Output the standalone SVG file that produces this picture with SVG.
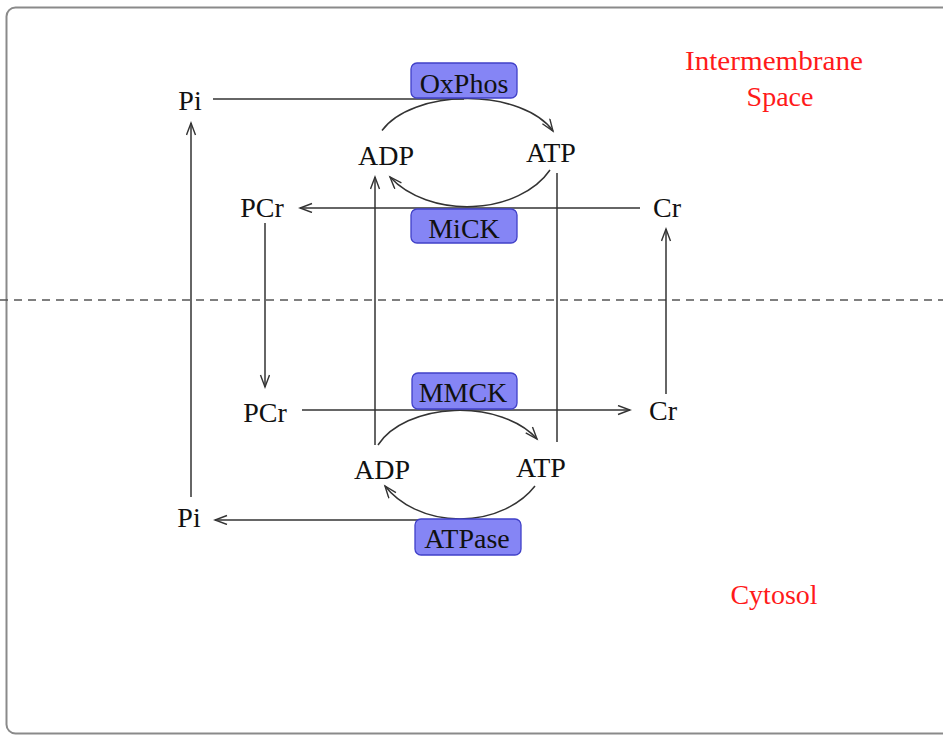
<svg xmlns="http://www.w3.org/2000/svg" width="943" height="736" viewBox="0 0 943 736">
<style>
.lbl{font-family:"Liberation Serif","Times New Roman",serif;font-size:28px;fill:#111;text-anchor:middle}
.red{font-family:"Liberation Serif","Times New Roman",serif;font-size:28px;fill:#ff1a1a;text-anchor:middle}
.enz{fill:#8585f5;stroke:#4040c8;stroke-width:1.3}
.c{fill:none;stroke:#333;stroke-width:1.5}
</style>
<defs>
<marker id="ah" markerUnits="userSpaceOnUse" markerWidth="16" markerHeight="12" refX="13" refY="5" orient="auto">
<path d="M1,0.5 L13,5 L1,9.5" fill="none" stroke="#333" stroke-width="1.4"/>
</marker>
</defs>
<rect x="6.5" y="7.5" width="950" height="726" rx="9" fill="#fff" stroke="#8a8a8a" stroke-width="2"/>
<line x1="0" y1="300" x2="943" y2="300" stroke="#555" stroke-width="1.5" stroke-dasharray="8,6"/>
<g id="connectors">
<path class="c" d="M213,99 L464,99"/>
<path class="c" d="M382,130.5 A92,51 0 0 1 553,131" marker-end="url(#ah)"/>
<path class="c" d="M550,170 A92,65 0 0 1 390,177" marker-end="url(#ah)"/>
<path class="c" d="M640,208 L300,208" marker-end="url(#ah)"/>
<path class="c" d="M265,223 L265,387" marker-end="url(#ah)"/>
<path class="c" d="M666,394 L666,229" marker-end="url(#ah)"/>
<path class="c" d="M302,410 L630,410" marker-end="url(#ah)"/>
<path class="c" d="M375,445 L375,177" marker-end="url(#ah)"/>
<path class="c" d="M557,173 L557,442"/>
<path class="c" d="M378,445 A88,55 0 0 1 537,439" marker-end="url(#ah)"/>
<path class="c" d="M535,486 A88,69 0 0 1 385,486" marker-end="url(#ah)"/>
<path class="c" d="M465,520 L215,520" marker-end="url(#ah)"/>
<path class="c" d="M191,497 L191,123" marker-end="url(#ah)"/>
</g>
<g id="pi-top"><text class="lbl" x="190" y="110">Pi</text></g>
<g id="oxphos"><rect class="enz" x="411" y="63" width="106" height="35" rx="6"/><text class="lbl" x="464" y="93">OxPhos</text></g>
<g id="adp-top"><text class="lbl" x="386" y="165">ADP</text></g>
<g id="atp-top"><text class="lbl" x="551" y="162">ATP</text></g>
<g id="pcr-top"><text class="lbl" x="262" y="217">PCr</text></g>
<g id="mick"><rect class="enz" x="411" y="209" width="106" height="34" rx="6"/><text class="lbl" x="464" y="238">MiCK</text></g>
<g id="cr-top"><text class="lbl" x="667" y="217">Cr</text></g>
<g id="pcr-bottom"><text class="lbl" x="265" y="422">PCr</text></g>
<g id="mmck"><rect class="enz" x="412" y="373" width="105" height="36" rx="6"/><text class="lbl" x="463" y="402">MMCK</text></g>
<g id="cr-bottom"><text class="lbl" x="663" y="420">Cr</text></g>
<g id="adp-bottom"><text class="lbl" x="382" y="479">ADP</text></g>
<g id="atp-bottom"><text class="lbl" x="541" y="477">ATP</text></g>
<g id="pi-bottom"><text class="lbl" x="189" y="527">Pi</text></g>
<g id="atpase"><rect class="enz" x="415" y="519" width="106" height="36" rx="6"/><text class="lbl" x="467" y="548">ATPase</text></g>
<g id="intermembrane"><text class="red" x="774" y="70" textLength="178" lengthAdjust="spacingAndGlyphs">Intermembrane</text><text class="red" x="780" y="106">Space</text></g>
<g id="cytosol"><text class="red" x="774" y="604">Cytosol</text></g>
</svg>
